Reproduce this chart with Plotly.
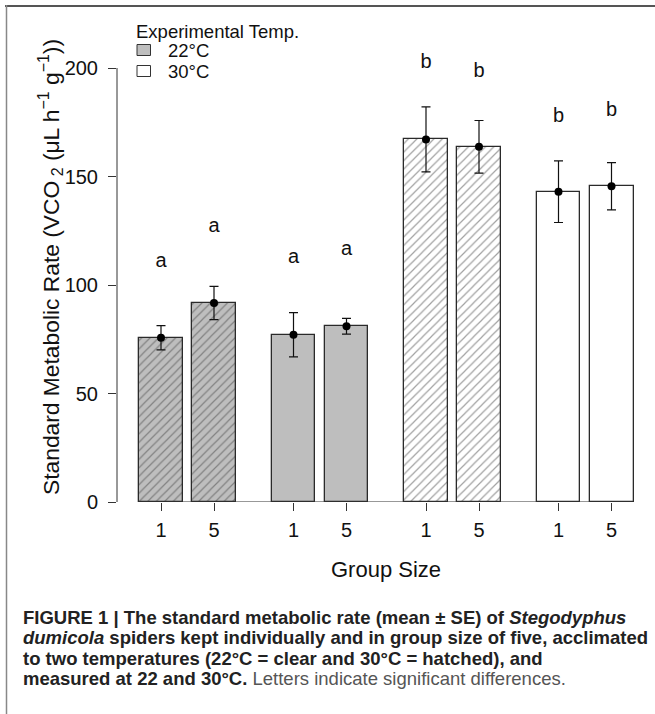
import plotly.graph_objects as go

# ---------------- data ----------------
group_sizes = ["1", "5"]
acclimation = ["30°C", "22°C", "30°C", "22°C"]      # hatched = 30°C acclimated
measured = ["22°C", "22°C", "30°C", "30°C"]
means = [75.7, 91.7, 77.1, 81.0, 167.1, 163.7, 143.0, 145.5]
se = [5.6, 7.65, 10.2, 3.65, 15.0, 12.1, 14.2, 10.9]
letters = ["a", "a", "a", "a", "b", "b", "b", "b"]
letter_y = [110.7, 126.9, 112.4, 116.1, 202.3, 198.3, 177.4, 180.2]
y_ticks = [0, 50, 100, 150, 200]
legend_labels = ["22°C", "30°C"]
legend_title = "Experimental Temp."

# ---------------- styles ----------------
FONT = "Liberation Sans, Arial, Helvetica, sans-serif"
fill_for = {"22°C": "#bebebe", "30°C": "#ffffff"}
W, H = 655, 714
L, R, T, B = 117, 645, 40, 502
PXU = 26.5          # px per x unit
PYU = 2.17          # px per y unit
first_center_px = 161
bar_w = 1.66

def px_x(X):
    return (X - L) / (R - L)

def px_y(Y):
    return (B - Y) / (B - T)

# bar positions: group g, index i
xs, fills, hatch, ticktext = [], [], [], []
for g in range(len(measured)):
    for i, gs in enumerate(group_sizes):
        xs.append(5 * g + 2 * i)
        fills.append(fill_for[measured[g]])
        hatch.append("/" if acclimation[g] == "30°C" else "")
        ticktext.append(gs)

fig = go.Figure()

fig.add_trace(go.Bar(
    x=xs, y=means, width=bar_w,
    marker=dict(color=fills,
                line=dict(color="#2a2a2a", width=1.3),
                pattern=dict(shape=hatch, fgcolor="#1a1a1a", size=6, solidity=0.2)),
    showlegend=False, hoverinfo="skip",
))

fig.add_trace(go.Scatter(
    x=xs, y=means, mode="markers",
    marker=dict(color="black", size=8),
    error_y=dict(type="data", array=se, color="#111111", thickness=1.2, width=4.5),
    showlegend=False, hoverinfo="skip",
))

fig.add_trace(go.Scatter(
    x=xs, y=letter_y, mode="text", text=letters,
    textfont=dict(family=FONT, size=20, color="#111111"),
    textposition="middle center",
    showlegend=False, hoverinfo="skip",
))

x_min = -(first_center_px - L) / PXU
x_max = (R - first_center_px) / PXU
y_max = (B - T) / PYU

fig.update_xaxes(range=[x_min, x_max], tickvals=xs, ticktext=ticktext,
                 ticks="outside", ticklen=8, tickwidth=1, tickcolor="#333333",
                 showline=False, showgrid=False, zeroline=False,
                 ticklabelstandoff=2,
                 tickfont=dict(family=FONT, size=20, color="#111111"))
fig.update_yaxes(range=[0, y_max], tickvals=y_ticks,
                 ticks="outside", ticklen=8, tickwidth=1, tickcolor="#333333",
                 showline=False, showgrid=False, zeroline=False,
                 ticklabelstandoff=6,
                 tickfont=dict(family=FONT, size=20, color="#111111"))

shapes = []
# y axis line (R style, from first to last tick)
shapes.append(dict(type="line", xref="paper", yref="y", x0=0, x1=0,
                   y0=y_ticks[0], y1=y_ticks[-1], line=dict(color="#333333", width=1)))
# baseline under bars
shapes.append(dict(type="line", xref="x", yref="y", x0=xs[0] - bar_w / 2, x1=xs[-1] + bar_w / 2,
                   y0=0, y1=0, line=dict(color="#333333", width=1.2)))
# figure frame: top and left rules
shapes.append(dict(type="line", xref="paper", yref="paper", x0=px_x(5), x1=px_x(655),
                   y0=px_y(6), y1=px_y(6), line=dict(color="#555555", width=2)))
shapes.append(dict(type="line", xref="paper", yref="paper", x0=px_x(6.5), x1=px_x(6.5),
                   y0=px_y(5), y1=px_y(714), line=dict(color="#888888", width=1.5)))

annotations = []
# legend (manual)
annotations.append(dict(text=legend_title, xref="paper", yref="paper", x=px_x(134), y=px_y(32),
                        xanchor="left", yanchor="middle", showarrow=False,
                        font=dict(family=FONT, size=18.5, color="#111111")))
for j, lab in enumerate(legend_labels):
    yc = 50 + 21 * j
    shapes.append(dict(type="rect", xref="paper", yref="paper",
                       x0=px_x(137), x1=px_x(150.5), y0=px_y(yc - 5.5), y1=px_y(yc + 5.5),
                       fillcolor=fill_for[lab], line=dict(color="#333333", width=1)))
    annotations.append(dict(text=lab, xref="paper", yref="paper", x=px_x(166), y=px_y(yc),
                            xanchor="left", yanchor="middle", showarrow=False,
                            font=dict(family=FONT, size=18.5, color="#111111")))

# axis titles
annotations.append(dict(text="Group Size", xref="paper", yref="paper",
                        x=px_x(386), y=px_y(569), xanchor="center", yanchor="middle",
                        showarrow=False, font=dict(family=FONT, size=22, color="#111111")))
annotations.append(dict(text="Standard Metabolic Rate (VCO<sub> 2</sub> (μL h<sup>−1</sup> g<sup>−1</sup>))",
                        xref="paper", yref="paper", x=px_x(50), y=px_y(267), textangle=-90,
                        xanchor="center", yanchor="middle", showarrow=False,
                        font=dict(family=FONT, size=22.8, color="#111111")))

# caption
caption_lines = [
    "<b>FIGURE 1 | The standard metabolic rate (mean ± SE) of <i>Stegodyphus</i></b>",
    "<b><i>dumicola</i> spiders kept individually and in group size of five, acclimated</b>",
    "<b>to two temperatures (22°C = clear and 30°C = hatched), and</b>",
    "<b>measured at 22 and 30°C.</b> <span style='color:#555555'>Letters indicate significant differences.</span>",
]
for j, line in enumerate(caption_lines):
    annotations.append(dict(text=line, xref="paper", yref="paper", x=px_x(21), y=px_y(617 + 20.5 * j),
                            xanchor="left", yanchor="middle", showarrow=False,
                            font=dict(family=FONT, size=18.5, color="#222222")))

fig.update_layout(
    width=W, height=H,
    margin=dict(l=L, r=W - R, t=T, b=H - B, pad=0),
    paper_bgcolor="white", plot_bgcolor="white",
    shapes=shapes, annotations=annotations,
    bargap=0, showlegend=False,
)

fig.write_html("out.html", config={"displayModeBar": False},
               post_script="document.body.style.margin='0';")
